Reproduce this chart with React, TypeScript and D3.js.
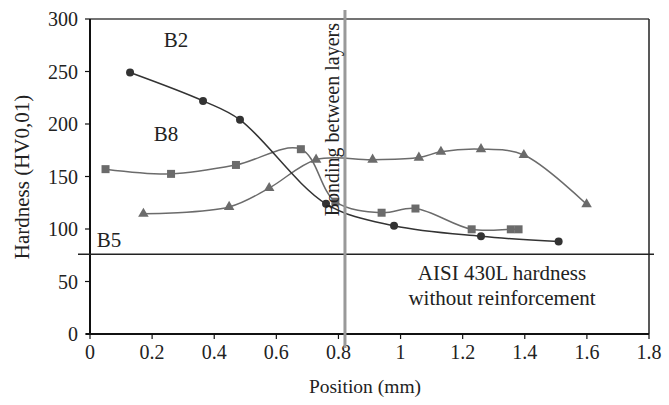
import React from "react";
import * as d3 from "d3";

const xTicks = [0, 0.2, 0.4, 0.6, 0.8, 1, 1.2, 1.4, 1.6, 1.8];
const yTicks = [0, 50, 100, 150, 200, 250, 300];

const b2X = [0.129, 0.364, 0.483, 0.76, 0.979, 1.259, 1.509];
const b2Y = [249, 222, 204, 124, 103, 93, 88];

const b8X = [0.05, 0.261, 0.47, 0.679, 0.79, 0.939, 1.048, 1.229, 1.355, 1.38];
const b8Y = [157, 152.5, 161, 176, 126, 115.5, 119.5, 99.7, 99.7, 99.7];

const b5X = [0.172, 0.448, 0.577, 0.728, 0.91, 1.059, 1.13, 1.259, 1.397, 1.599];
const b5Y = [114.5, 121, 139, 166, 166, 168, 173.5, 176, 170.5, 123.5];

const baseHardness = 76;
const bondingPos = 0.821;

const W = 669, H = 405;
const L = 90, R = 649, T = 19, B = 334;
const FONT = "'Liberation Serif', 'Times New Roman', serif";

export default function App() {
  const x = d3.scaleLinear().domain([0, 1.8]).range([L, R]);
  const y = d3.scaleLinear().domain([0, 300]).range([B, T]);
  const line = d3
    .line<[number, number]>()
    .x((d) => x(d[0]))
    .y((d) => y(d[1]))
    .curve(d3.curveCatmullRom.alpha(0.5));

  const zip = (xs: number[], ys: number[]) => xs.map((v, i) => [v, ys[i]] as [number, number]);
  const b2 = zip(b2X, b2Y);
  const b8 = zip(b8X, b8Y);
  const b5 = zip(b5X, b5Y);
  const dark = "#333";
  const gray = "#6b6b6b";
  const tri = d3.symbol().type(d3.symbolTriangle).size(48)();

  return (
    <svg width={W} height={H} style={{ position: "absolute", left: 0, top: 0 }} fontFamily={FONT}>
      <rect width={W} height={H} fill="#fff" />
      {/* frame top/right */}
      <line x1={L} x2={R} y1={T} y2={T} stroke="#444" strokeWidth={1.5} />
      <line x1={R} x2={R} y1={T} y2={B} stroke="#222" strokeWidth={1.5} />
      {/* axes */}
      <line x1={L} x2={L} y1={T} y2={B} stroke="#111" strokeWidth={2} />
      <line x1={L - 4} x2={R} y1={B} y2={B} stroke="#111" strokeWidth={2} />
      {yTicks.map((t) => (
        <g key={"y" + t}>
          <line x1={L - 5} x2={L} y1={y(t)} y2={y(t)} stroke="#111" strokeWidth={1.2} />
          <text x={L - 12} y={y(t)} dy="0.35em" textAnchor="end" fontSize={20} fill="#222">
            {t}
          </text>
        </g>
      ))}
      {xTicks.map((t) => (
        <g key={"x" + t}>
          <line x1={x(t)} x2={x(t)} y1={B} y2={B + 5} stroke="#111" strokeWidth={1.2} />
          <text x={x(t)} y={B + 18} dy="0.35em" textAnchor="middle" fontSize={20} fill="#222">
            {t}
          </text>
        </g>
      ))}
      <text x={365} y={393} textAnchor="middle" fontSize={19.5} fill="#222">
        Position (mm)
      </text>
      <text
        transform={`translate(29,${177}) rotate(-90)`}
        textAnchor="middle"
        fontSize={21}
        fill="#222"
      >
        Hardness (HV0,01)
      </text>

      {/* base hardness line */}
      <line x1={78} x2={654} y1={y(baseHardness)} y2={y(baseHardness)} stroke="#222" strokeWidth={1.5} />

      {/* series */}
      <path d={line(b8) ?? ""} fill="none" stroke={gray} strokeWidth={1.5} />
      <path d={line(b5) ?? ""} fill="none" stroke={gray} strokeWidth={1.5} />
      <path d={line(b2) ?? ""} fill="none" stroke={dark} strokeWidth={1.5} />
      {b8.map((d, i) => (
        <rect key={"s" + i} x={x(d[0]) - 4} y={y(d[1]) - 4} width={8} height={8} fill={gray} />
      ))}
      {b5.map((d, i) => (
        <path key={"t" + i} d={tri ?? ""} transform={`translate(${x(d[0])},${y(d[1])})`} fill={gray} />
      ))}
      {b2.map((d, i) => (
        <circle key={"c" + i} cx={x(d[0])} cy={y(d[1])} r={4} fill={dark} />
      ))}

      {/* bonding line */}
      <line x1={x(bondingPos)} x2={x(bondingPos)} y1={10} y2={348} stroke="#999" strokeWidth={3} />
      <text
        transform={`translate(339,${23}) rotate(-90)`}
        textAnchor="end"
        fontSize={20}
        fill="#222"
      >
        Bonding between layers
      </text>

      {/* labels */}
      <text x={176} y={47} textAnchor="middle" fontSize={21} fill="#222">B2</text>
      <text x={166} y={141} textAnchor="middle" fontSize={21} fill="#222">B8</text>
      <text x={109} y={247} textAnchor="middle" fontSize={21} fill="#222">B5</text>
      <text x={502} y={280} textAnchor="middle" fontSize={21} fill="#222">AISI 430L hardness</text>
      <text x={502} y={305} textAnchor="middle" fontSize={21} fill="#222">without reinforcement</text>
    </svg>
  );
}
